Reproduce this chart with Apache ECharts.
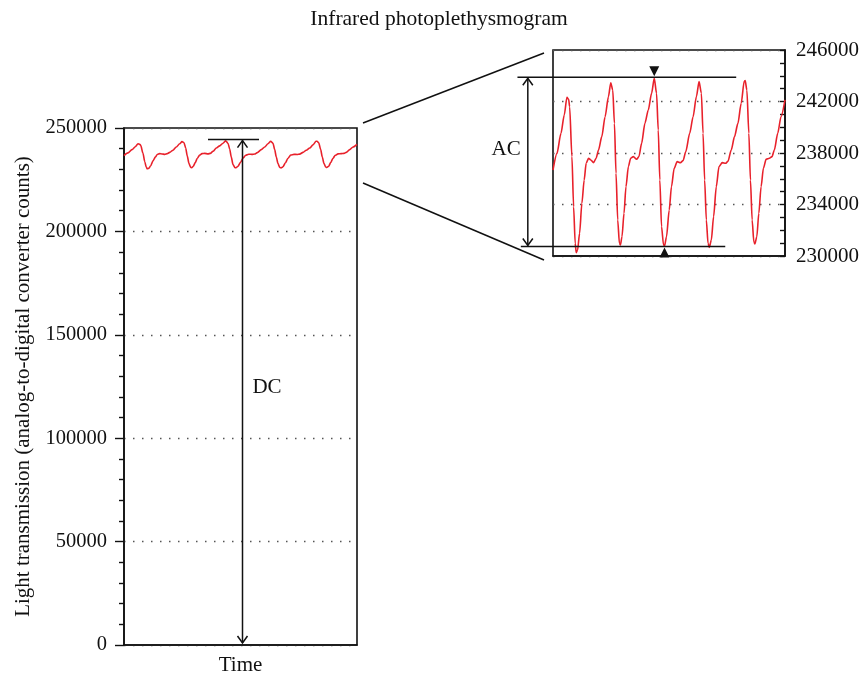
<!DOCTYPE html>
<html><head><meta charset="utf-8">
<script src="https://cdn.jsdelivr.net/npm/echarts@6/dist/echarts.min.js"></script>
<style>html,body{margin:0;padding:0;background:#fff}#c{width:859px;height:675px}</style>
</head><body><div id="c"></div><script>
const chartTitle = 'Infrared photoplethysmogram';
const yAxisTitle = 'Light transmission (analog-to-digital converter counts)';
const xAxisTitle = 'Time';

// sample index (time) and light transmission counts
const time = [0,4,8,11.3,14,15.7,16.7,19,20.7,22.3,23.3,24.7,26.7,29,31.3,33.3,35.7,38,40.7,43.3,45.7,49,52.3,55.7,58,
  60,61.7,63.3,65,66.7,67.7,69.3,71.3,73.3,75.7,78,80.7,84,86.3,89,92.3,95.7,99,101.7,
  104,105.7,107.3,109,111,112,114,116.7,119,121.7,124.7,128,130.7,133.3,137.3,140.7,144,146.7,
  149,150.7,152.3,154,155.7,157,159,161.3,164,166.7,170,173.3,175.7,179,182.3,185.7,189,192,193,
  194.7,196.7,198.3,200,201.7,202.7,204.7,206.7,209,211.3,214,217.3,220,222.3,225.7,229,233];
const transmission = [236680,237970,239530,240950,242320,242170,241600,237720,233830,230980,230260,230470,231760,234090,235900,237200,237590,237460,237250,237590,238230,239270,240820,242380,243460,
  242890,240300,236420,232800,230980,230860,231500,233310,235390,236940,237590,237720,237510,237720,238750,240300,241340,242640,243800,
  242640,239790,235900,232280,230860,230780,231500,233570,235390,236810,237330,237250,237410,238100,239530,240820,242380,243540,
  242640,239530,235900,232800,230980,230670,231240,233060,235390,236940,237250,237200,237350,238230,239270,240300,241860,243570,243620,
  242890,239530,235900,232800,231110,230930,231500,233310,235390,236810,237510,237590,237720,238230,239530,240820,242120];

// axis ranges
const mainMin = 0, mainMax = 250000, mainStep = 50000;
const insetMin = 230000, insetMax = 246000, insetStep = 4000;
const timeMin = 0, timeMax = 233;

// annotation values
const dcLabel = 'DC', acLabel = 'AC';
const dcTop = 244400, dcLineFrom = 84, dcLineTo = 135, dcArrowTime = 118.5;
const dcLabelTime = 143, dcLabelValue = 124500;
const acTop = 243880, acBottom = 230740;
const acTopFrom = -35.7, acTopTo = 184, acBottomFrom = -32.3, acBottomTo = 173;
const acArrowTime = -25.3, acLabelTime = -47, acLabelValue = 238300;
const peakMarkTime = 101.7, troughMarkTime = 112;

const FONT = 'Liberation Serif';
const INK = '#111';
const seriesData = time.map((t, i) => [t, transmission[i]]);
const dotted = { color: '#555', type: [1.5, 7.5], width: 1.3 };
const axisLine = { show: true, onZero: false, lineStyle: { color: INK, width: 1.6 } };
const plain = v => String(v);
const chart = echarts.init(document.getElementById('c'));

chart.setOption({
  animation: false,
  backgroundColor: '#fff',
  title: { text: chartTitle, left: 434, top: 3, textAlign: 'center',
    textStyle: { fontFamily: FONT, fontSize: 21.5, fontWeight: 'normal', color: INK } },
  grid: [
    { left: 124, top: 128, right: 502, bottom: 30, show: true, borderColor: INK, borderWidth: 1.6, outerBoundsMode: 'none', containLabel: false },
    { left: 553, top: 50, right: 74, bottom: 419, show: true, borderColor: INK, borderWidth: 1.6, outerBoundsMode: 'none', containLabel: false }
  ],
  xAxis: [
    { gridIndex: 0, type: 'value', min: timeMin, max: timeMax,
      axisLine: axisLine, axisTick: { show: false },
      axisLabel: { show: false }, splitLine: { show: false },
      name: xAxisTitle, nameLocation: 'middle', nameGap: 10,
      nameTextStyle: { fontFamily: FONT, fontSize: 21, color: INK, verticalAlign: 'top' } },
    { gridIndex: 1, type: 'value', min: timeMin, max: timeMax,
      axisLine: axisLine, axisTick: { show: false },
      axisLabel: { show: false }, splitLine: { show: false } }
  ],
  yAxis: [
    { gridIndex: 0, type: 'value', min: mainMin, max: mainMax, interval: mainStep,
      axisLine: axisLine,
      axisTick: { show: true, inside: false, length: 9, lineStyle: { color: INK, width: 1.4 } },
      minorTick: { show: true, splitNumber: 5, length: 5, lineStyle: { color: INK, width: 1.4 } },
      axisLabel: { fontFamily: FONT, fontSize: 20.5, color: INK, margin: 17, formatter: plain },
      splitLine: { show: true, lineStyle: dotted },
      name: yAxisTitle, nameLocation: 'middle', nameGap: 90, nameRotate: 90,
      nameTextStyle: { fontFamily: FONT, fontSize: 21, color: INK } },
    { gridIndex: 1, type: 'value', position: 'right', min: insetMin, max: insetMax, interval: insetStep,
      axisLine: axisLine,
      axisTick: { show: true, inside: true, length: 5, lineStyle: { color: INK, width: 1.4 } },
      minorTick: { show: true, splitNumber: 4, length: 5, lineStyle: { color: INK, width: 1.4 } },
      axisLabel: { fontFamily: FONT, fontSize: 21, color: INK, margin: 11, formatter: plain },
      splitLine: { show: true, lineStyle: dotted } }
  ],
  series: [
    { type: 'line', xAxisIndex: 0, yAxisIndex: 0, data: seriesData, showSymbol: false, smooth: 0.25, smoothMonotone: 'x',
      lineStyle: { color: '#e8212b', width: 1.6 }, z: 3 },
    { type: 'line', xAxisIndex: 1, yAxisIndex: 1, data: seriesData, showSymbol: false, smooth: 0.25, smoothMonotone: 'x',
      lineStyle: { color: '#e8212b', width: 1.6 }, z: 3 }
  ]
});

function px(g, t, v) { return chart.convertToPixel({ xAxisIndex: g, yAxisIndex: g }, [t, v]); }
const ls = { stroke: INK, lineWidth: 1.5 };
function seg(a, b) { return { type: 'line', shape: { x1: a[0], y1: a[1], x2: b[0], y2: b[1] }, style: Object.assign({}, ls), z: 10 }; }
function chevron(x, y, dir) { return { type: 'polyline', shape: { points: [[x - 5, y + 7 * dir], [x, y], [x + 5, y + 7 * dir]] }, style: Object.assign({ fill: null }, ls), z: 10 }; }
function tri(x, y, dir) { return { type: 'polygon', shape: { points: [[x - 5, y + 10 * dir], [x, y], [x + 5, y + 10 * dir]] }, style: { fill: INK }, z: 10 }; }

const g = [];
// DC annotation in main chart
g.push(seg(px(0, dcLineFrom, dcTop), px(0, dcLineTo, dcTop)));
const dTop = px(0, dcArrowTime, dcTop), dBot = px(0, dcArrowTime, mainMin);
g.push(seg([dTop[0], dTop[1] + 1], [dBot[0], dBot[1] - 2]));
g.push(chevron(dTop[0], dTop[1] + 1, 1));
g.push(chevron(dBot[0], dBot[1] - 2, -1));
const dL = px(0, dcLabelTime, dcLabelValue);
g.push({ type: 'text', x: dL[0], y: dL[1], style: { text: dcLabel, fontFamily: FONT, fontSize: 21, fill: INK, align: 'center', verticalAlign: 'middle' }, z: 10 });

// AC annotation in inset
g.push(seg(px(1, acTopFrom, acTop), px(1, acTopTo, acTop)));
g.push(seg(px(1, acBottomFrom, acBottom), px(1, acBottomTo, acBottom)));
const aTop = px(1, acArrowTime, acTop), aBot = px(1, acArrowTime, acBottom);
g.push(seg([aTop[0], aTop[1] + 1], [aBot[0], aBot[1] - 1]));
g.push(chevron(aTop[0], aTop[1] + 1, 1));
g.push(chevron(aBot[0], aBot[1] - 1, -1));
const aL = px(1, acLabelTime, acLabelValue);
g.push({ type: 'text', x: aL[0], y: aL[1], style: { text: acLabel, fontFamily: FONT, fontSize: 21, fill: INK, align: 'center', verticalAlign: 'middle' }, z: 10 });
const pk = px(1, peakMarkTime, acTop), tr = px(1, troughMarkTime, acBottom);
g.push(tri(pk[0], pk[1] - 1, -1));
g.push(tri(tr[0], tr[1] + 1, 1));

// zoom connector lines
g.push(seg([363, 123], [544, 53]));
g.push(seg([363, 183], [544, 260]));

chart.setOption({ graphic: g });
</script></body></html>
